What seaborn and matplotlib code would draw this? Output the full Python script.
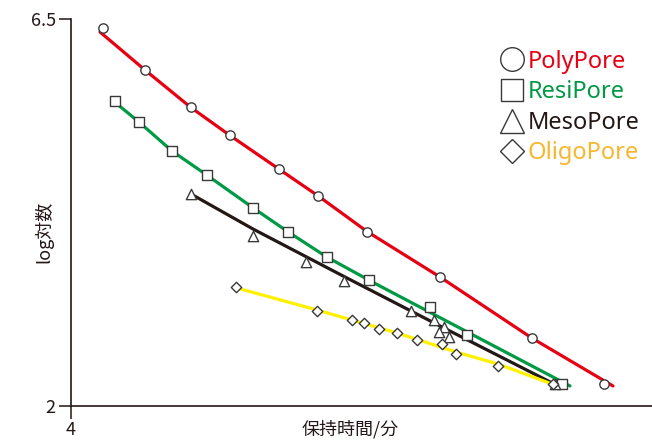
import numpy as np
import pandas as pd
import matplotlib
matplotlib.use("Agg")
import matplotlib.pyplot as plt
from matplotlib.lines import Line2D
import seaborn as sns

# measured points (retention time / min, log count)
poly_x = [4.667, 5.528, 6.472, 7.278, 8.302, 9.107, 10.119, 11.621, 13.527, 15.014]
poly_y = [6.399, 5.907, 5.473, 5.148, 4.752, 4.442, 4.027, 3.500, 2.787, 2.252]

resi_x = [4.909, 5.404, 6.086, 6.803, 7.765, 8.488, 9.281, 10.148, 11.414, 12.172, 14.134]
resi_y = [5.547, 5.302, 4.965, 4.686, 4.302, 4.023, 3.733, 3.465, 3.151, 2.821, 2.252]

meso_x = [6.478, 7.765, 8.847, 9.648, 11.022, 11.493, 11.710, 11.606, 11.813, 13.996]
meso_y = [4.462, 3.980, 3.678, 3.459, 3.101, 3.000, 2.922, 2.864, 2.797, 2.256]

oligo_x = [7.401, 9.087, 9.797, 10.057, 10.367, 10.727, 11.140, 11.668, 11.957, 12.813, 13.961]
oligo_y = [3.387, 3.108, 3.000, 2.962, 2.895, 2.845, 2.771, 2.721, 2.605, 2.465, 2.252]

# fitted curves as drawn in the figure
poly_fit_x = [4.599, 5.528, 6.472, 7.278, 8.302, 9.107, 10.119, 11.621, 13.527, 15.194]
poly_fit_y = [6.349, 5.907, 5.473, 5.148, 4.752, 4.442, 4.027, 3.500, 2.787, 2.233]

resi_fit_x = [4.950, 5.404, 6.086, 6.803, 7.765, 8.488, 9.281, 10.148, 10.380, 14.306]
resi_fit_y = [5.512, 5.302, 4.965, 4.686, 4.302, 4.023, 3.733, 3.465, 3.395, 2.233]

meso_fit_x = [6.478, 7.759, 9.659, 11.703, 14.058]
meso_fit_y = [4.465, 4.058, 3.500, 2.907, 2.233]

oligo_fit_x = [7.428, 9.081, 10.733, 11.951, 12.819, 13.934]
oligo_fit_y = [3.372, 3.116, 2.849, 2.628, 2.488, 2.256]

names = ["PolyPore", "ResiPore", "MesoPore", "OligoPore"]
line_colors = ["#e60012", "#009944", "#231815", "#fff100"]
text_colors = ["#e60012", "#009944", "#231815", "#f8b62d"]
markers = ["o", "s", "^", "D"]
sizes = [45, 55, 55, 28]
legend_sizes = [17, 16, 17, 12]

sns.set_style("ticks")
plt.rcParams['font.family'] = ['Liberation Sans Narrow', 'Noto Sans CJK JP', 'DejaVu Sans']

fig = plt.figure(figsize=(6.52, 4.41), dpi=100)
ax = fig.add_axes([0.1089, 0.0794, 0.8911, 0.8775])

pts = [(poly_x, poly_y), (resi_x, resi_y), (meso_x, meso_y), (oligo_x, oligo_y)]
fits = [(poly_fit_x, poly_fit_y), (resi_fit_x, resi_fit_y),
        (meso_fit_x, meso_fit_y), (oligo_fit_x, oligo_fit_y)]

for i in range(4):
    fx, fy = fits[i]
    sns.lineplot(x=fx, y=fy, ax=ax, color=line_colors[i], linewidth=2.3,
                 sort=False, estimator=None, zorder=2)
for i in range(4):
    px, py = pts[i]
    sns.scatterplot(x=px, y=py, ax=ax, marker=markers[i], s=sizes[i],
                    facecolor="white", edgecolor="#3a3a3a", linewidth=1.0, zorder=3)

ax.set_xlim(4, 16)
ax.set_ylim(2, 6.5)
ax.set_xticks([4])
ax.set_yticks([2, 6.5])
ax.set_yticklabels(["2", "6.5"])
ax.tick_params(axis="both", which="major", direction="out", length=9, width=1.1,
               color="#231815", labelsize=13, labelcolor="#231815", pad=2,
               bottom=True, left=True)

for s in ["top", "right"]:
    ax.spines[s].set_visible(False)
for s in ["left", "bottom"]:
    ax.spines[s].set_color("#231815")
    ax.spines[s].set_linewidth(1.2)

ax.set_ylabel("log対数", fontsize=13, color="#231815",
              family=['Noto Sans CJK JP', 'DejaVu Sans'])
ax.yaxis.set_label_coords(-0.03, 0.45)
ax.set_xlabel("保持時間/分", fontsize=13, color="#231815",
              family=['Noto Sans CJK JP', 'DejaVu Sans'])
ax.xaxis.set_label_coords(0.48, -0.035)

handles = [Line2D([], [], linestyle="none", marker=m, markersize=ms,
                  markerfacecolor="none", markeredgecolor="#3a3a3a", markeredgewidth=1.0)
           for m, ms in zip(markers, legend_sizes)]
leg = ax.legend(handles, names, loc="upper left", bbox_to_anchor=(0.70, 0.976),
                frameon=False, labelcolor=text_colors, handlelength=1.1,
                handletextpad=0.1, labelspacing=0.28,
                prop={'family': ['Noto Sans', 'DejaVu Sans'], 'size': 17})

fig.savefig("out.png", dpi=100)
